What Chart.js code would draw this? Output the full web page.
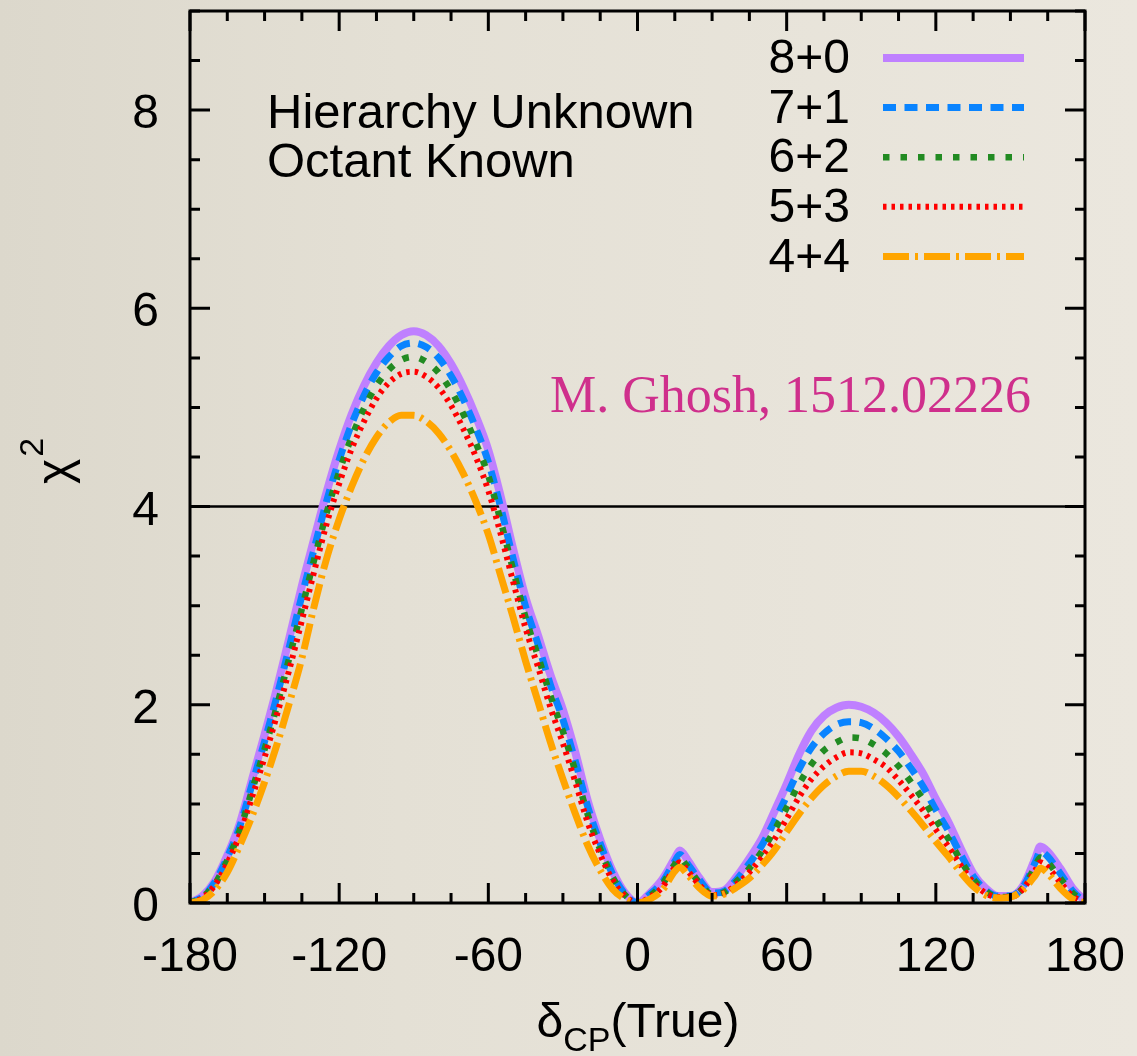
<!DOCTYPE html>
<html>
<head>
<meta charset="utf-8">
<script src="https://cdn.jsdelivr.net/npm/chart.js@4.4.1/dist/chart.umd.min.js"></script>
<style>
html,body{margin:0;padding:0;}
body{width:1137px;height:1056px;overflow:hidden;background:linear-gradient(to right,#dcd8cc 0%,#e4e0d5 35%,#ebe7de 100%);}
#wrap{position:relative;width:1137px;height:1056px;}
</style>
</head>
<body>
<div id="wrap"><canvas id="c" width="1137" height="1056"></canvas></div>
<script>
// ---- data ----
const deltaCP = [-180,-175,-170,-165,-160,-155,-150,-145,-140,-135,-130,-125,-120,-115,-110,-105,-100,-95,-90,-85,-80,-75,-70,-65,-60,-55,-50,-45,-40,-35,-30,-25,-20,-15,-10,-5,0,
  5,10,15,17,20,25,30,35,40,45,50,55,60,65,70,75,80,85,90,95,100,105,110,115,120,125,130,135,140,145,150,155,160,162,165,170,175,180];

const chi2_8p0 = [0.00,0.07,0.22,0.48,0.80,1.25,1.70,2.17,2.68,3.20,3.68,4.15,4.57,4.93,5.22,5.45,5.62,5.73,5.77,5.73,5.62,5.44,5.20,4.91,4.57,4.10,3.57,3.08,2.70,2.30,1.95,1.52,1.03,0.64,0.32,0.10,0.00,
  0.10,0.24,0.45,0.53,0.44,0.25,0.11,0.13,0.27,0.45,0.65,0.92,1.20,1.50,1.74,1.89,1.97,2.00,1.98,1.92,1.82,1.68,1.50,1.30,1.05,0.82,0.55,0.30,0.15,0.07,0.07,0.17,0.45,0.57,0.52,0.35,0.15,0.02];

const chi2_7p1 = [0.00,0.06,0.21,0.46,0.77,1.20,1.63,2.09,2.59,3.10,3.58,4.06,4.47,4.83,5.12,5.35,5.51,5.62,5.65,5.61,5.50,5.32,5.08,4.79,4.45,3.99,3.47,2.99,2.61,2.20,1.85,1.43,0.97,0.60,0.29,0.09,0.00,
  0.09,0.21,0.42,0.49,0.40,0.23,0.10,0.12,0.24,0.40,0.58,0.82,1.08,1.35,1.57,1.71,1.80,1.83,1.82,1.76,1.66,1.53,1.36,1.17,0.94,0.73,0.49,0.27,0.13,0.07,0.07,0.16,0.41,0.52,0.47,0.30,0.12,0.01];

const chi2_6p2 = [0.00,0.06,0.19,0.43,0.73,1.14,1.55,1.99,2.48,2.97,3.47,3.94,4.35,4.70,4.99,5.22,5.38,5.48,5.51,5.46,5.35,5.17,4.93,4.64,4.31,3.85,3.36,2.88,2.49,2.09,1.73,1.33,0.89,0.54,0.26,0.08,0.00,
  0.07,0.19,0.39,0.45,0.37,0.20,0.09,0.11,0.22,0.35,0.52,0.73,0.96,1.20,1.40,1.54,1.62,1.67,1.66,1.60,1.51,1.38,1.22,1.04,0.84,0.65,0.43,0.24,0.12,0.06,0.07,0.15,0.37,0.46,0.41,0.25,0.10,0.01];

const chi2_5p3 = [0.00,0.05,0.18,0.40,0.69,1.07,1.47,1.90,2.36,2.85,3.35,3.83,4.23,4.58,4.86,5.09,5.25,5.34,5.36,5.31,5.20,5.02,4.78,4.50,4.16,3.72,3.24,2.77,2.38,1.97,1.61,1.22,0.81,0.49,0.23,0.07,0.00,
  0.06,0.16,0.36,0.41,0.33,0.18,0.08,0.10,0.19,0.31,0.46,0.64,0.85,1.07,1.25,1.38,1.47,1.52,1.51,1.45,1.37,1.24,1.09,0.93,0.74,0.57,0.38,0.21,0.10,0.06,0.06,0.14,0.33,0.41,0.36,0.21,0.07,0.01];

const chi2_4p4 = [0.00,0.03,0.13,0.31,0.58,0.88,1.22,1.60,2.02,2.47,3.00,3.48,3.87,4.20,4.48,4.70,4.85,4.92,4.92,4.86,4.74,4.56,4.33,4.05,3.72,3.30,2.88,2.44,2.03,1.62,1.25,0.90,0.58,0.33,0.14,0.04,0.00,
  0.04,0.13,0.32,0.36,0.29,0.15,0.07,0.09,0.16,0.25,0.38,0.53,0.72,0.90,1.06,1.19,1.28,1.33,1.33,1.28,1.19,1.07,0.93,0.78,0.62,0.47,0.31,0.17,0.08,0.05,0.06,0.13,0.28,0.35,0.30,0.15,0.04,0.00];

const seriesLabels = ['8+0','7+1','6+2','5+3','4+4'];
const refLineX = [-180, 180];
const refLineY = [4, 4];
const xTickLabels = [-180,-120,-60,0,60,120,180];
const yTickLabels = [0,2,4,6,8];
const xMinorStep = 15, xMajorStep = 60, yMinorStep = 0.5, yMajorStep = 2;
const noteLines = ['Hierarchy Unknown','Octant Known'];
const creditText = 'M. Ghosh, 1512.02226';

// ---- styles ----
const FONT = "'Liberation Sans', Arial, Helvetica, sans-serif";
const styles = [
  {color:'#bf80ff', width:8, dash:[]},
  {color:'#0a84ff', width:7, dash:[13,8.5]},
  {color:'#228b22', width:6.5, dash:[6.5,11]},
  {color:'#ff0000', width:6, dash:[3.5,5]},
  {color:'#ffa500', width:7, dash:[26,6,3,6]}
];
const allSeries = [chi2_8p0, chi2_7p1, chi2_6p2, chi2_5p3, chi2_4p4];

const datasets = allSeries.map((arr, i) => ({
  label: seriesLabels[i],
  data: deltaCP.map((x, k) => ({x: x, y: arr[k]})),
  borderColor: styles[i].color,
  borderWidth: styles[i].width,
  borderDash: styles[i].dash,
  borderCapStyle: 'butt',
  pointRadius: 0,
  fill: false,
  cubicInterpolationMode: 'monotone',
  order: 5 - i
}));
datasets.push({
  label: 'ref',
  data: refLineX.map((x, k) => ({x: x, y: refLineY[k]})),
  borderColor: '#000',
  borderWidth: 2.5,
  pointRadius: 0,
  fill: false,
  order: 10
});

const frameTicks = {
  id: 'frameTicks',
  afterDatasetsDraw(chart) {
    const {ctx, chartArea: a, scales: {x, y}} = chart;
    ctx.save();
    ctx.strokeStyle = '#000';
    ctx.lineWidth = 3;
    ctx.setLineDash([]);
    ctx.beginPath();
    for (let v = x.min; v <= x.max + 1e-9; v += xMinorStep) {
      const px = x.getPixelForValue(v);
      const len = (Math.abs(v % xMajorStep) < 1e-9) ? 20 : 10;
      ctx.moveTo(px, a.bottom); ctx.lineTo(px, a.bottom - len);
      ctx.moveTo(px, a.top); ctx.lineTo(px, a.top + len);
    }
    for (let v = y.min; v <= y.max + 1e-9; v += yMinorStep) {
      const py = y.getPixelForValue(v);
      const len = (Math.abs(v % yMajorStep) < 1e-9) ? 20 : 10;
      ctx.moveTo(a.left, py); ctx.lineTo(a.left + len, py);
      ctx.moveTo(a.right, py); ctx.lineTo(a.right - len, py);
    }
    ctx.stroke();
    ctx.strokeRect(a.left, a.top, a.right - a.left, a.bottom - a.top);
    ctx.restore();
  },
  afterDraw(chart) {
    const {ctx, chartArea: a, scales: {x, y}} = chart;
    ctx.save();
    ctx.fillStyle = '#000';
    ctx.font = '48px ' + FONT;
    // tick labels
    ctx.textBaseline = 'alphabetic';
    ctx.textAlign = 'center';
    xTickLabels.forEach(v => ctx.fillText(String(v), x.getPixelForValue(v), a.bottom + 68));
    ctx.textAlign = 'right';
    yTickLabels.forEach(v => ctx.fillText(String(v), a.left - 31, y.getPixelForValue(v) + 18));
    // annotation text
    ctx.font = '49px ' + FONT;
    ctx.textAlign = 'left';
    ctx.fillText(noteLines[0], a.left + 77, a.top + 117);
    ctx.fillText(noteLines[1], a.left + 77, a.top + 166);
    // legend
    const ds = chart.data.datasets.slice(0, seriesLabels.length);
    ds.forEach((d, i) => {
      const cy = a.top + 47 + i * 49.6;
      ctx.fillStyle = '#000';
      ctx.textAlign = 'right';
      ctx.textBaseline = 'middle';
      ctx.font = '48px ' + FONT;
      ctx.fillText(d.label, a.left + 660, cy + 2);
      ctx.beginPath();
      ctx.strokeStyle = d.borderColor;
      ctx.lineWidth = d.borderWidth;
      ctx.setLineDash(d.borderDash || []);
      ctx.lineCap = 'butt';
      ctx.moveTo(a.left + 693, cy);
      ctx.lineTo(a.left + 834, cy);
      ctx.stroke();
    });
    ctx.setLineDash([]);
    // credit
    ctx.fillStyle = '#cf2f8c';
    ctx.font = "52px 'Liberation Serif', 'DejaVu Serif', serif";
    ctx.textAlign = 'left';
    ctx.textBaseline = 'alphabetic';
    ctx.fillText(creditText, 550, 412);
    // y title  chi^2 (rotated)
    ctx.fillStyle = '#000';
    ctx.save();
    ctx.translate(70, 484);
    ctx.rotate(-Math.PI / 2);
    ctx.font = '48px ' + FONT;
    ctx.textAlign = 'left';
    ctx.fillText('χ', 0, 0);
    const wChi = ctx.measureText('χ').width;
    ctx.font = '34px ' + FONT;
    ctx.fillText('2', wChi + 2, -27);
    ctx.restore();
    // x title  delta_CP(True)
    ctx.font = '48px ' + FONT;
    const w1 = ctx.measureText('δ').width;
    ctx.font = '34px ' + FONT;
    const w2 = ctx.measureText('CP').width;
    ctx.font = '48px ' + FONT;
    const w3 = ctx.measureText('(True)').width;
    let sx = 638 - (w1 + w2 + w3) / 2;
    const base = 1037;
    ctx.textAlign = 'left';
    ctx.fillText('δ', sx, base);
    ctx.font = '34px ' + FONT;
    ctx.fillText('CP', sx + w1, base + 14);
    ctx.font = '48px ' + FONT;
    ctx.fillText('(True)', sx + w1 + w2, base);
    ctx.restore();
  }
};

new Chart(document.getElementById('c'), {
  type: 'line',
  data: {datasets: datasets},
  options: {
    responsive: false,
    animation: false,
    devicePixelRatio: 1,
    layout: {padding: {left: 0, top: 11, right: 52, bottom: 0}},
    plugins: {legend: {display: false}, tooltip: {enabled: false}},
    scales: {
      x: {
        type: 'linear', min: -180, max: 180,
        grid: {display: false, drawTicks: false},
        border: {display: false},
        ticks: {display: false},
        afterFit(s) { s.height = 153; }
      },
      y: {
        type: 'linear', min: 0, max: 9,
        grid: {display: false, drawTicks: false},
        border: {display: false},
        ticks: {display: false},
        afterFit(s) { s.width = 190; }
      }
    }
  },
  plugins: [frameTicks]
});
</script>
</body>
</html>
